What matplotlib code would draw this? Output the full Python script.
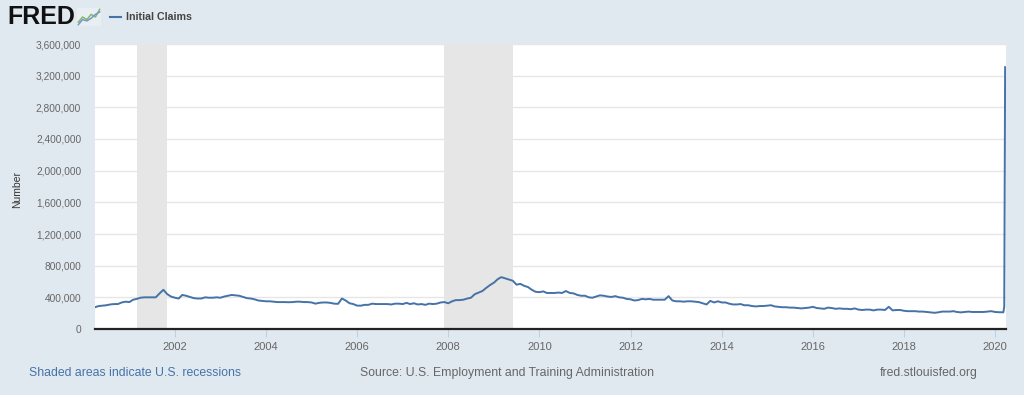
import numpy as np
import pandas as pd
import matplotlib
matplotlib.use("Agg")
import matplotlib.pyplot as plt
import matplotlib.dates as mdates
import matplotlib.ticker as mticker

# monthly averages of weekly initial claims (thousands), Apr 2000 .. Feb 2020
claims_2000 = [275, 290, 295, 300, 310, 315, 315, 335, 345]
claims_2001 = [340, 370, 380, 395, 400, 400, 400, 400, 450, 495, 440, 410]
claims_2002 = [395, 385, 430, 420, 405, 390, 385, 385, 400, 395, 395, 400]
claims_2003 = [395, 410, 420, 430, 425, 420, 405, 390, 385, 375, 360, 355]
claims_2004 = [350, 350, 345, 340, 340, 340, 338, 340, 345, 345, 340, 340]
claims_2005 = [335, 320, 330, 335, 335, 330, 320, 318, 385, 360, 325, 315]
claims_2006 = [295, 295, 305, 305, 320, 315, 315, 315, 315, 310, 320, 320]
claims_2007 = [315, 330, 315, 325, 310, 315, 305, 320, 315, 320, 335, 340]
claims_2008 = [325, 350, 365, 365, 370, 385, 395, 440, 460, 480, 520, 555]
claims_2009 = [585, 630, 655, 640, 625, 610, 560, 570, 545, 530, 495, 470]
claims_2010 = [465, 475, 455, 455, 455, 460, 455, 480, 455, 450, 430, 420]
claims_2011 = [420, 400, 395, 410, 425, 420, 410, 405, 415, 400, 395, 380]
claims_2012 = [375, 360, 365, 380, 375, 380, 370, 370, 370, 370, 415, 360]
claims_2013 = [350, 350, 345, 350, 350, 345, 340, 325, 310, 355, 335, 350]
claims_2014 = [335, 335, 320, 310, 310, 315, 300, 300, 290, 285, 290, 290]
claims_2015 = [295, 300, 285, 280, 275, 275, 270, 270, 265, 260, 265, 270]
claims_2016 = [280, 265, 260, 255, 270, 265, 255, 260, 255, 255, 250, 260]
claims_2017 = [245, 240, 245, 245, 235, 245, 245, 240, 280, 235, 240, 240]
claims_2018 = [230, 225, 225, 225, 220, 220, 215, 210, 205, 210, 220, 220]
claims_2019 = [220, 225, 215, 210, 215, 220, 215, 215, 215, 215, 220, 225]
claims_2020 = [215, 212]

# weekly values for March 2020 (thousands)
march_2020_weeks = ["2020-03-07", "2020-03-14", "2020-03-21"]
march_2020_claims = [211, 282, 3307]

recessions = [("2001-03-01", "2001-11-01"), ("2007-12-01", "2009-06-01")]
year_ticks = list(range(2002, 2021, 2))

monthly = (claims_2000 + claims_2001 + claims_2002 + claims_2003 + claims_2004
           + claims_2005 + claims_2006 + claims_2007 + claims_2008 + claims_2009
           + claims_2010 + claims_2011 + claims_2012 + claims_2013 + claims_2014
           + claims_2015 + claims_2016 + claims_2017 + claims_2018 + claims_2019
           + claims_2020)
dates = pd.date_range("2000-04-01", periods=len(monthly), freq="MS")
df = pd.DataFrame({"date": dates, "claims": np.array(monthly) * 1000})
df = pd.concat([df, pd.DataFrame({"date": pd.to_datetime(march_2020_weeks),
                                  "claims": np.array(march_2020_claims) * 1000})],
               ignore_index=True)

plt.rcParams["font.family"] = ["Liberation Sans", "DejaVu Sans"]
bg = "#E1E9F0"
blue = "#4572A7"

fig = plt.figure(figsize=(10.24, 3.95), dpi=100)
fig.set_facecolor(bg)
ax = fig.add_axes([95 / 1024, 66 / 395, 911 / 1024, 285 / 395])
ax.set_facecolor("white")

for start, end in recessions:
    ax.axvspan(pd.Timestamp(start), pd.Timestamp(end), color="#E6E6E6", lw=0, zorder=1)

ax.plot(df["date"], df["claims"], color=blue, lw=1.4, zorder=3)

ax.set_xlim(pd.Timestamp("2000-04-01"), pd.Timestamp("2020-03-28"))
ax.set_ylim(0, 3600000)
ax.yaxis.set_major_locator(mticker.MultipleLocator(400000))
ax.yaxis.set_major_formatter(mticker.FuncFormatter(lambda v, p: f"{int(v):,}"))
ax.set_xticks([pd.Timestamp(f"{y}-01-01") for y in year_ticks])
ax.xaxis.set_major_formatter(mdates.DateFormatter("%Y"))

ax.grid(True, axis="y", color="#E6E6E6", lw=1, zorder=0)
for s in ["top", "right", "left"]:
    ax.spines[s].set_visible(False)
ax.spines["bottom"].set_color("#222222")
ax.spines["bottom"].set_linewidth(1.6)
ax.spines["bottom"].set_zorder(4)
ax.tick_params(axis="y", length=0, labelsize=7.3, labelcolor="#666666", pad=10)
ax.tick_params(axis="x", length=6, color="#C0D0E0", labelsize=8, labelcolor="#666666", pad=3)
fig.text(17 / 1024, 1 - 190 / 395, "Number", fontsize=7.5, color="#333333",
         rotation=90, va="center", ha="center")

# header: logo and legend
fig.text(7 / 1024, 1 - 17 / 395, "FRED", fontsize=18, fontweight="bold",
         color="#111111", va="center", ha="left")
icon = fig.add_axes([77 / 1024, 1 - 26 / 395, 24 / 1024, 18 / 395])
icon.set_facecolor("#E9EEF2")
icon.plot([0, 1, 2, 3, 4, 5], [1, 3, 2, 4, 3, 6], color="#8CB56A", lw=1.1)
icon.plot([0, 1, 2, 3, 4, 5], [0, 2, 1.5, 2.5, 4, 5], color="#6F9BC8", lw=1.1)
icon.set_xlim(-0.3, 5.3)
icon.set_ylim(-0.5, 6.5)
icon.set_xticks([])
icon.set_yticks([])
for s in icon.spines.values():
    s.set_visible(False)
fig.lines.append(plt.Line2D([110 / 1024, 121 / 1024], [1 - 17 / 395, 1 - 17 / 395],
                            transform=fig.transFigure, color=blue, lw=1.5))
fig.text(126 / 1024, 1 - 17 / 395, "Initial Claims", fontsize=7.7, color="#444444",
         va="center", ha="left", fontweight="bold")

# footer
fig.text(29 / 1024, 1 - 373 / 395, "Shaded areas indicate U.S. recessions", fontsize=8.8,
         color="#4572A7", va="center", ha="left")
fig.text(360 / 1024, 1 - 373 / 395, "Source: U.S. Employment and Training Administration",
         fontsize=8.8, color="#666666", va="center", ha="left")
fig.text(978 / 1024, 1 - 373 / 395, "fred.stlouisfed.org", fontsize=8.8,
         color="#666666", va="center", ha="right")

fig.savefig("out.png", dpi=100, facecolor=bg)
